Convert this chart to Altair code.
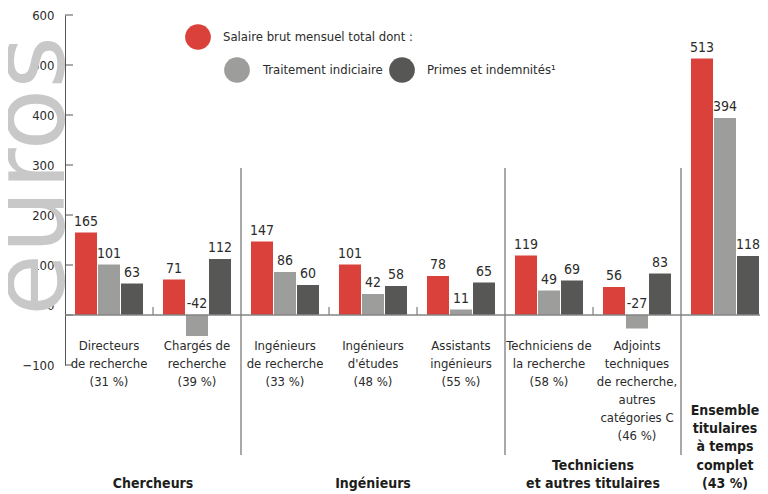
import altair as alt
import pandas as pd

# ---------------- data ----------------
categories = [
    "Directeurs de recherche",
    "Chargés de recherche",
    "Ingénieurs de recherche",
    "Ingénieurs d'études",
    "Assistants ingénieurs",
    "Techniciens de la recherche",
    "Adjoints techniques de recherche, autres catégories C",
    "Ensemble titulaires à temps complet",
]
cat_labels = [
    "Directeurs\nde recherche\n(31 %)",
    "Chargés de\nrecherche\n(39 %)",
    "Ingénieurs\nde recherche\n(33 %)",
    "Ingénieurs\nd'études\n(48 %)",
    "Assistants\ningénieurs\n(55 %)",
    "Techniciens de\nla recherche\n(58 %)",
    "Adjoints\ntechniques\nde recherche,\nautres\ncatégories C\n(46 %)",
    "",
]
ensemble_label = "Ensemble\ntitulaires\nà temps\ncomplet\n(43 %)"

total = [165, 71, 147, 101, 78, 119, 56, 513]
traitement = [101, -42, 86, 42, 11, 49, -27, 394]
primes = [63, 112, 60, 58, 65, 69, 83, 118]

series_keys = ["total", "traitement", "primes"]
series_names = ["Salaire brut mensuel total dont :", "Traitement indiciaire", "Primes et indemnités¹"]
colors = ["#d9413a", "#9d9d9c", "#575756"]

y_ticks = [-100, 0, 100, 200, 300, 400, 500, 600]

groups = ["Chercheurs", "Ingénieurs", "Techniciens\net autres titulaires"]
group_start = [0, 2, 5]
group_end = [2, 5, 7]
minor_ticks = [1, 3, 4, 6]

# ---------------- layout / style ----------------
FONT = "DejaVu Sans Condensed, DejaVu Sans, sans-serif"
TXT = "#2b2b2b"
W, H = 695, 350
XR = 704  # pixel extent of the 8 category slots
LH = 18.3
BOTTOM_LINE_TOP = 462  # plot-pixel top of the last line of the bold labels
LEGEND = [  # (circle x, circle y, text x) in plot pixels
    (133, 22, 158),
    (172, 55, 198),
    (337, 55, 362),
]

rows = []
for i, c in enumerate(categories):
    for k, vals in zip(series_keys, [total, traitement, primes]):
        rows.append({"cat": c, "series": k, "value": vals[i],
                     "vt": str(vals[i]), "ly": max(vals[i], 0)})
df = pd.DataFrame(rows)

cat_df = pd.DataFrame({"cat": categories, "label": cat_labels})
sep_df = pd.DataFrame({"p": group_end})
minor_df = pd.DataFrame({"p": minor_ticks})
tick_df = pd.DataFrame({"v": y_ticks})

xband = alt.Scale(domain=categories, range=[0, XR], paddingInner=20 / 88, paddingOuter=10 / 88)
xoff = alt.Scale(domain=series_keys, paddingInner=1 / 23, paddingOuter=0)
xq = alt.Scale(domain=[0, len(categories)], range=[0, XR])
yscale = alt.Scale(domain=[-100, 600], nice=False)
cscale = alt.Scale(domain=series_keys, range=colors)

euros = alt.Chart(pd.DataFrame({"t": ["euros"]})).mark_text(
    angle=270, align="center", baseline="alphabetic", fontSize=101,
    font="DejaVu Sans", color="#c8c8c8"
).encode(text="t:N", x=alt.value(-1), y=alt.value(161))

bars = alt.Chart(df).mark_bar().encode(
    x=alt.X("cat:N", scale=xband, axis=None, sort=categories),
    xOffset=alt.XOffset("series:N", scale=xoff, sort=series_keys),
    y=alt.Y("value:Q", scale=yscale, axis=alt.Axis(
        values=y_ticks, ticks=False, tickSize=0, grid=False, title=None,
        domainColor="#555555", domainWidth=1, labelPadding=11,
        labelFont=FONT, labelFontSize=13, labelColor=TXT,
        labelOffset={"condition": {"test": "datum.value == 0", "value": -10}, "value": 0},
    )),
    y2=alt.datum(0),
    color=alt.Color("series:N", scale=cscale, legend=None),
)

yticks = alt.Chart(tick_df).mark_rule(color="#555555", strokeWidth=1).encode(
    y=alt.Y("v:Q", scale=yscale), x=alt.value(0), x2=alt.value(8)
)

zero = alt.Chart(pd.DataFrame({"z": [0]})).mark_rule(color="#858585", strokeWidth=1.3).encode(
    y=alt.Y("z:Q", scale=yscale), x=alt.value(0), x2=alt.value(XR)
)

minor = alt.Chart(minor_df).mark_rule(color="#858585", strokeWidth=1.3).encode(
    x=alt.X("p:Q", scale=xq, axis=None), y=alt.value(300), y2=alt.value(292)
)

seps = alt.Chart(sep_df).mark_rule(color="#7a7a7a", strokeWidth=1.3).encode(
    x=alt.X("p:Q", scale=xq, axis=None), y=alt.value(153), y2=alt.value(440)
)

vlabels = alt.Chart(df).mark_text(
    baseline="alphabetic", dy=-7, font=FONT, fontSize=14, color=TXT
).encode(
    x=alt.X("cat:N", scale=xband, axis=None, sort=categories),
    xOffset=alt.XOffset("series:N", scale=xoff, sort=series_keys),
    y=alt.Y("ly:Q", scale=yscale),
    text=alt.Text("vt:N"),
)

clabels = alt.Chart(cat_df).mark_text(
    baseline="top", lineBreak="\n", lineHeight=18, font=FONT, fontSize=13, color=TXT
).encode(
    x=alt.X("cat:N", scale=xband, axis=None, sort=categories),
    y=alt.value(325),
    text="label:N",
)

bold_layers = []
bold_items = [(ensemble_label, len(categories) - 0.5)] + [
    (g, (s + e) / 2) for g, s, e in zip(groups, group_start, group_end)
]
for text, mid in bold_items:
    n = text.count("\n")
    bold_layers.append(
        alt.Chart(pd.DataFrame({"p": [mid], "t": [text]})).mark_text(
            baseline="top", lineBreak="\n", lineHeight=LH, font=FONT, fontSize=14,
            fontWeight="bold", color="#1d1d1b"
        ).encode(x=alt.X("p:Q", scale=xq, axis=None),
                 y=alt.value(BOTTOM_LINE_TOP - n * LH), text="t:N")
    )

legend_layers = []
for (cx, cy, tx), name, col in zip(LEGEND, series_names, colors):
    one = pd.DataFrame({"t": [name]})
    legend_layers.append(
        alt.Chart(one).mark_circle(size=660, opacity=1, color=col).encode(
            x=alt.value(cx), y=alt.value(cy)
        )
    )
    legend_layers.append(
        alt.Chart(one).mark_text(align="left", baseline="middle", font=FONT, fontSize=13, color=TXT).encode(
            x=alt.value(tx), y=alt.value(cy), text="t:N"
        )
    )

chart = alt.layer(
    euros, bars, yticks, zero, minor, seps, vlabels, clabels, *bold_layers, *legend_layers
).resolve_scale(x="independent").properties(
    width=W, height=H,
    autosize=alt.AutoSizeParams(type="none"),
    padding={"left": 57, "top": 7, "right": 0, "bottom": 129},
).configure_view(stroke=None)

chart.save("out.html", embed_options={"renderer": "svg", "actions": False})
